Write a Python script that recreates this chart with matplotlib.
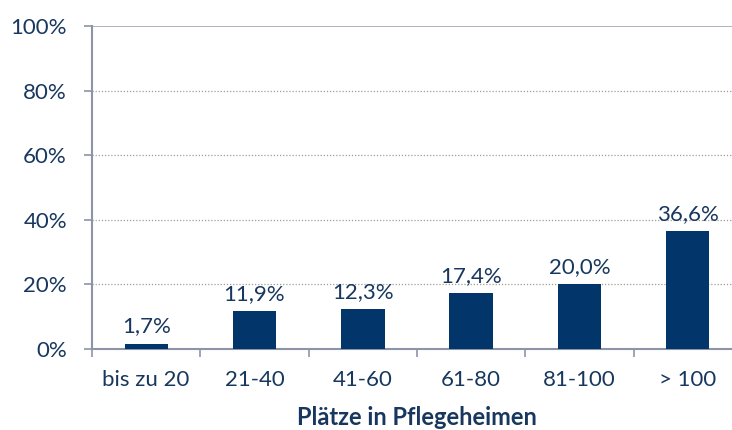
import matplotlib
matplotlib.use("Agg")
import matplotlib.pyplot as plt
import numpy as np

categories = ["bis zu 20", "21-40", "41-60", "61-80", "81-100", "> 100"]
values = [1.7, 11.9, 12.3, 17.4, 20.0, 36.6]
value_labels = ["1,7%", "11,9%", "12,3%", "17,4%", "20,0%", "36,6%"]
yticks = [0, 20, 40, 60, 80, 100]
ytick_labels = ["0%", "20%", "40%", "60%", "80%", "100%"]
xlabel = "Plätze in Pflegeheimen"

plt.rcParams['font.family'] = ['Lato', 'DejaVu Sans']
text_c = '#17375E'
axis_c = '#8C95A8'
bar_c = '#02366A'
fs = 16

fig = plt.figure(figsize=(7.32, 4.30), dpi=100)
ax = fig.add_axes([92/732, 81/430, 650/732, 323/430])
x = np.arange(len(categories))
bars = ax.bar(x, values, width=0.40, color=bar_c, zorder=3)
for xi, v, lab in zip(x, values, value_labels):
    ax.annotate(lab, (xi, v), xytext=(0, 5), textcoords='offset points',
                ha='center', va='bottom', fontsize=fs, color=text_c)

ax.set_xlim(-0.5, len(categories) - 0.5)
ax.set_ylim(0, 100)
ax.set_yticks(yticks)
ax.set_yticklabels(ytick_labels)
ax.set_xticks(x)
ax.set_xticklabels(categories)
ax.set_xticks(np.arange(-0.5, len(categories)), minor=True)
ax.tick_params(axis='x', which='major', length=0, pad=15, labelsize=fs, labelcolor=text_c)
ax.tick_params(axis='x', which='minor', length=6, width=1.2, color=axis_c, direction='out')
ax.tick_params(axis='y', length=6, width=1.2, color=axis_c, pad=12, labelsize=fs, labelcolor=text_c)

for yv in yticks[1:-1]:
    ax.axhline(yv, color='#A39B90', lw=0.9, ls=(0, (1, 1.5)), zorder=1)
ax.axhline(100, color='#A0A6B4', lw=1.2, zorder=1)

for s in ['top', 'right']:
    ax.spines[s].set_visible(False)
for s in ['left', 'bottom']:
    ax.spines[s].set_color(axis_c)
    ax.spines[s].set_linewidth(1.5)

ax.set_xlabel(xlabel, fontsize=17, fontweight='bold', color=text_c, va='baseline')
ax.xaxis.set_label_coords((417 - 92) / 650, (349 - 425) / 323)

fig.savefig("out.png", dpi=100)
